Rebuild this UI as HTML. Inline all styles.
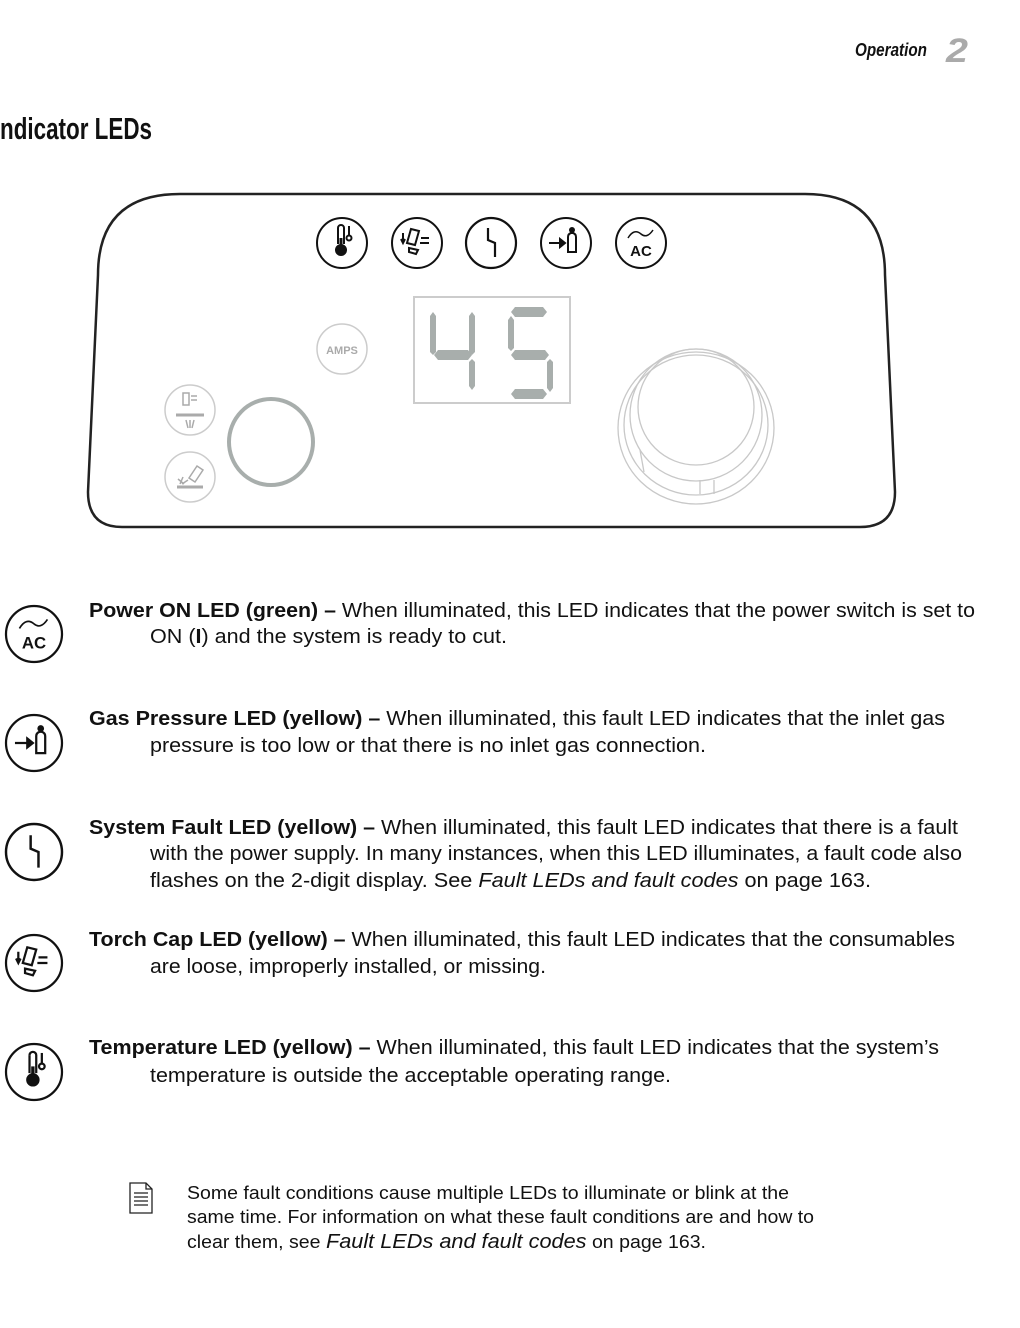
<!DOCTYPE html>
<html><head><meta charset="utf-8"><style>
html,body{margin:0;padding:0;background:#fff;width:1020px;height:1328px;overflow:hidden}
svg text{font-family:"Liberation Sans",sans-serif}
</style></head><body>
<svg width="1020" height="1328" viewBox="0 0 1020 1328" xmlns="http://www.w3.org/2000/svg">
<defs>
<g id="therm" fill="none" stroke="#111" stroke-width="2">
 <circle r="25"/>
 <path d="M-4,-15 a3,3 0 0 1 6,0 v16" />
 <path d="M-4,-15 v16" />
 <circle cx="-1" cy="7" r="5" fill="#111"/>
 <rect x="-2.5" y="-5" width="3" height="10" fill="#111" stroke="none"/>
 <path d="M7,-17 v9"/><circle cx="7" cy="-5" r="2.5"/>
</g>
<g id="torch" fill="none" stroke="#111" stroke-width="2">
 <circle r="25"/>
 <path d="M-14,-10 v9 M-16,-4 l2,4 l2,-4"/>
 <path d="M-6,-14 l8,2 l-4,14 l-8,-2 z"/>
 <path d="M4,-5 h8 M3,0 h9"/>
 <path d="M-8,5 l9,2 l-2,4 l-7,-2 z"/>
</g>
<g id="fault" fill="none" stroke="#111" stroke-width="2.2">
 <circle r="25"/>
 <path d="M-3,-15 v12 l7,3 v14"/>
</g>
<g id="gas" fill="none" stroke="#111" stroke-width="2">
 <circle r="25"/>
 <path d="M-17,0 h12"/><path d="M-6,-4 l5,4 l-5,4 z" fill="#111"/>
 <path d="M2,-6 q0,-3 3,-4 h2 q3,1 3,4 v15 h-8 z"/>
 <circle cx="6" cy="-13" r="2" fill="#111"/>
</g>
<g id="ac" fill="none" stroke="#111" stroke-width="2">
 <circle r="25"/>
 <path d="M-13,-5 q6,-10 13,-4 q6,5 12,-4" stroke-width="1.5"/>
 <text x="0" y="13" text-anchor="middle" font-size="15" font-weight="bold" fill="#111" stroke="none">AC</text>
</g>
</defs>

<text x="855" y="56" font-size="18" font-weight="bold" font-style="italic" fill="#111" textLength="72" lengthAdjust="spacingAndGlyphs">Operation</text>
<text x="946" y="62" font-size="34" font-weight="bold" font-style="italic" fill="#aaa" textLength="22" lengthAdjust="spacingAndGlyphs">2</text>
<text x="0" y="139" font-size="31" font-weight="bold" fill="#111" textLength="152" lengthAdjust="spacingAndGlyphs">ndicator LEDs</text>

<path d="M98,275 Q98,194 180,194 L805,194 Q885,194 885,275 L895,492 Q895,527 860,527 L122,527 Q88,527 88,492 Z" fill="none" stroke="#222" stroke-width="2.5"/>
<use href="#therm" x="342" y="243"/>
<use href="#torch" x="417" y="243"/>
<use href="#fault" x="491" y="243"/>
<use href="#gas" x="566" y="243"/>
<use href="#ac" x="641" y="243"/>

<circle cx="342" cy="349" r="25" fill="none" stroke="#ccc" stroke-width="1.5"/>
<text x="342" y="354" text-anchor="middle" font-size="11" font-weight="bold" fill="#aaa">AMPS</text>

<rect x="414" y="297" width="156" height="106" fill="none" stroke="#ccc" stroke-width="2"/>
<g fill="#a8aeac">
 <path d="M430,316 l3,-4 l3,4 v36 l-3,3 l-3,-3z"/>
 <path d="M469,316 l3,-4 l3,4 v36 l-3,3 l-3,-3z"/>
 <path d="M438,350 h30 l4,5 l-4,5 h-30 l-4,-5z"/>
 <path d="M469,362 l3,-3 l3,3 v24 l-3,4 l-3,-4z"/>
 <path d="M515,307 h28 l4,5 l-4,5 h-28 l-4,-5z"/>
 <path d="M508,320 l3,-4 l3,4 v28 l-3,3 l-3,-3z"/>
 <path d="M515,350 h30 l4,5 l-4,5 h-30 l-4,-5z"/>
 <path d="M547,362 l3,-3 l3,3 v26 l-3,4 l-3,-4z"/>
 <path d="M515,389 h28 l4,5 l-4,5 h-28 l-4,-5z"/>
</g>

<circle cx="190" cy="410" r="25" fill="none" stroke="#ccc" stroke-width="1.5"/>
<circle cx="190" cy="477" r="25" fill="none" stroke="#ccc" stroke-width="1.5"/>
<g stroke="#aaa" stroke-width="1.5" fill="none">
 <rect x="183" y="393" width="6" height="12"/><path d="M191,396 h6 M191,400 h6"/>
 <path d="M176,415 h28" stroke-width="3"/>
 <path d="M186,420 l2,8 M190,420 v8 M194,420 l-2,8"/>
 <path d="M177,487 h26" stroke-width="3"/>
 <path d="M189,478 l8,-12 l6,4 l-8,12z"/>
 <path d="M180,484 l3,-7 M184,484 l-6,-5 M182,484 l6,-4"/>
</g>
<ellipse cx="271" cy="442" rx="42" ry="43" fill="none" stroke="#a8aeac" stroke-width="4"/>

<g fill="none" stroke="#c8c8c8" stroke-width="1.3">
 <ellipse cx="696" cy="428" rx="78" ry="76"/>
 <ellipse cx="696" cy="425" rx="72" ry="70"/>
 <ellipse cx="696" cy="415" rx="66" ry="66"/>
 <ellipse cx="696" cy="407" rx="58" ry="58"/>
 <path d="M640,450 l4,22 M700,480 v14 M714,480 v14"/>
</g>

<g transform="translate(34,634) scale(1.12)"><use href="#ac"/></g>
<g transform="translate(34,743) scale(1.12)"><use href="#gas"/></g>
<g transform="translate(34,852) scale(1.12)"><use href="#fault"/></g>
<g transform="translate(34,963) scale(1.12)"><use href="#torch"/></g>
<g transform="translate(34,1072) scale(1.12)"><use href="#therm"/></g>

<g font-size="20" fill="#111">
<text x="89" y="617" textLength="886" lengthAdjust="spacingAndGlyphs"><tspan font-weight="bold">Power ON LED (green) –</tspan> When illuminated, this LED indicates that the power switch is set to</text>
<text x="150" y="643" textLength="357" lengthAdjust="spacingAndGlyphs">ON (<tspan font-weight="bold">I</tspan>) and the system is ready to cut.</text>

<text x="89" y="725" textLength="856" lengthAdjust="spacingAndGlyphs"><tspan font-weight="bold">Gas Pressure LED (yellow) –</tspan> When illuminated, this fault LED indicates that the inlet gas</text>
<text x="150" y="752" textLength="556" lengthAdjust="spacingAndGlyphs">pressure is too low or that there is no inlet gas connection.</text>

<text x="89" y="834" textLength="869" lengthAdjust="spacingAndGlyphs"><tspan font-weight="bold">System Fault LED (yellow) –</tspan> When illuminated, this fault LED indicates that there is a fault</text>
<text x="150" y="860" textLength="812" lengthAdjust="spacingAndGlyphs">with the power supply. In many instances, when this LED illuminates, a fault code also</text>
<text x="150" y="887" textLength="721" lengthAdjust="spacingAndGlyphs">flashes on the 2-digit display. See <tspan font-style="italic">Fault LEDs and fault codes</tspan> on page 163.</text>

<text x="89" y="946" textLength="866" lengthAdjust="spacingAndGlyphs"><tspan font-weight="bold">Torch Cap LED (yellow) –</tspan> When illuminated, this fault LED indicates that the consumables</text>
<text x="150" y="973" textLength="396" lengthAdjust="spacingAndGlyphs">are loose, improperly installed, or missing.</text>

<text x="89" y="1054" textLength="850" lengthAdjust="spacingAndGlyphs"><tspan font-weight="bold">Temperature LED (yellow) –</tspan> When illuminated, this fault LED indicates that the system’s</text>
<text x="150" y="1082" textLength="521" lengthAdjust="spacingAndGlyphs">temperature is outside the acceptable operating range.</text>
</g>

<g fill="none" stroke="#222" stroke-width="1.3">
 <path d="M130,1183 h16 l6,6 v24 h-22 z"/>
 <path d="M146,1183 v6 h6"/>
 <path d="M134,1193 h14 M134,1197 h14 M134,1201 h14 M134,1205 h14"/>
</g>
<g font-size="18" fill="#111">
<text x="187" y="1199" textLength="602" lengthAdjust="spacingAndGlyphs">Some fault conditions cause multiple LEDs to illuminate or blink at the</text>
<text x="187" y="1223" textLength="627" lengthAdjust="spacingAndGlyphs">same time. For information on what these fault conditions are and how to</text>
<text x="187" y="1248" textLength="519" lengthAdjust="spacingAndGlyphs">clear them, see <tspan font-style="italic" font-size="20">Fault LEDs and fault codes</tspan> on page 163.</text>
</g>
</svg>
</body></html>
